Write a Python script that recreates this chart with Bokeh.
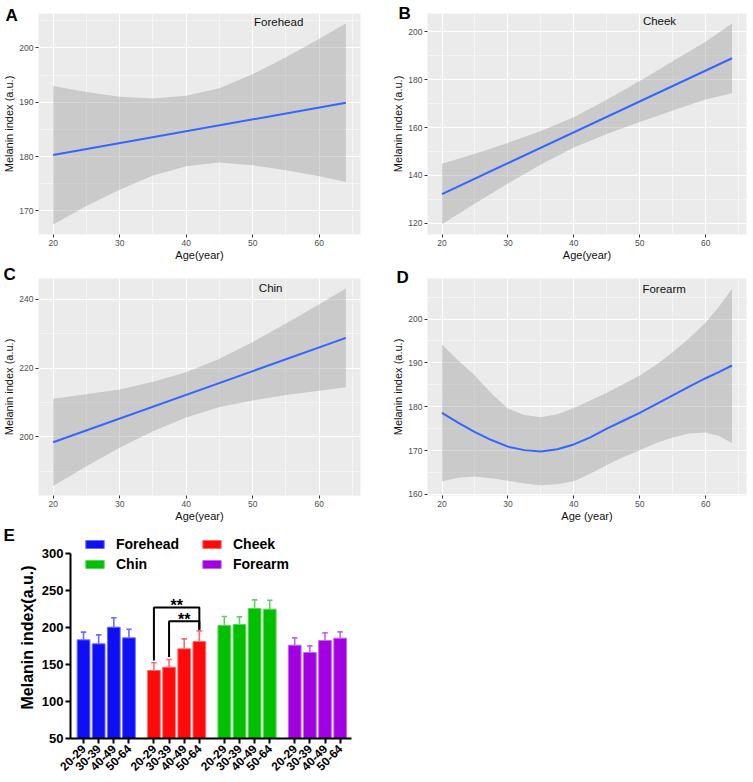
from math import pi
from bokeh.plotting import figure
from bokeh.layouts import column, row
from bokeh.models import Range1d, FixedTicker, Legend, LegendItem
from bokeh.core.properties import value
from bokeh.embed import file_html
from bokeh.resources import INLINE

FONT = "Liberation Sans"

# ---------------- Panels A-D data (age vs melanin index) ----------------
age_ticks = [20, 30, 40, 50, 60]
age_minor = [25, 35, 45, 55, 65]
band_age = [20, 25, 30, 35, 40, 45, 50, 55, 60, 64]
fit_age = [20, 64]

forehead_fit = [180.3, 189.9]
forehead_upper = [193.0, 191.9, 191.0, 190.7, 191.2, 192.6, 195.2, 198.3, 201.7, 204.5]
forehead_lower = [167.5, 170.9, 173.9, 176.5, 178.2, 178.9, 178.4, 177.5, 176.4, 175.3]

cheek_fit = [132.2, 189.0]
cheek_upper = [144.9, 149.1, 153.6, 158.6, 164.3, 171.6, 179.5, 187.7, 195.9, 203.5]
cheek_lower = [119.6, 128.3, 136.6, 144.6, 151.7, 157.3, 162.3, 167.1, 171.7, 174.4]

chin_fit = [198.4, 228.8]
chin_upper = [211.1, 212.4, 213.8, 216.0, 218.8, 222.7, 227.6, 233.0, 238.6, 243.2]
chin_lower = [185.7, 191.4, 196.8, 201.6, 205.6, 208.7, 210.6, 212.2, 213.4, 214.4]

forearm_age = [20, 22.5, 25, 27.5, 30, 32.5, 35, 37.5, 40, 42.5, 45, 47.5, 50, 52.5, 55, 57.5, 60, 62, 64]
forearm_fit = [178.6, 176.3, 174.2, 172.4, 170.9, 170.1, 169.8, 170.3, 171.4, 173.0, 175.0, 176.8,
               178.6, 180.6, 182.6, 184.6, 186.5, 187.9, 189.4]
forearm_upper = [194.2, 190.5, 187.1, 183.0, 179.6, 178.1, 177.6, 178.3, 179.7, 181.4, 183.2, 185.1,
                 187.1, 189.6, 192.4, 195.6, 199.2, 202.8, 206.9]
forearm_lower = [163.0, 163.8, 164.1, 163.7, 163.1, 162.5, 162.1, 162.3, 163.0, 164.7, 166.7, 168.5,
                 170.1, 171.7, 173.0, 173.9, 174.1, 173.3, 171.7]

# ---------------- Panel E data (bar chart) ----------------
sites = ["Forehead", "Cheek", "Chin", "Forearm"]
age_groups = ["20-29", "30-39", "40-49", "50-64"]
forehead_mean = [183.3, 177.9, 200.5, 186.0]
forehead_sd = [10.4, 12.2, 12.6, 11.7]
cheek_mean = [141.9, 146.4, 171.2, 181.1]
cheek_sd = [10.4, 10.4, 13.5, 14.4]
chin_mean = [202.7, 204.1, 225.7, 224.8]
chin_sd = [12.2, 10.3, 11.7, 12.1]
forearm_mean = [176.1, 166.2, 182.4, 185.6]
forearm_sd = [9.9, 9.0, 10.4, 8.5]
bar_ticks = [50, 100, 150, 200, 250, 300]

# significance brackets within Cheek: (from group index, to group index)
sig_pairs = [(0, 3), (1, 3)]
sig_heights = [227.0, 208.6]
sig_left_ends = [155.5, 160.0]
sig_right_ends = [197.0, 197.0]
sig_text = ["**", "**"]


def letter_title(p, letter, offset, standoff):
    p.title.text = letter
    p.title.align = "left"
    p.title.vertical_align = "bottom"
    p.title.offset = offset
    p.title.standoff = standoff
    p.title.text_font = FONT
    p.title.text_font_size = "17px"
    p.title.text_font_style = "bold"
    p.title.text_color = "black"


def smooth_panel(letter, name, name_xy, xs, fit, bx, lo, hi, yrange, yticks, yminor,
                 width, height, bl, br, bt, bb, letter_off, xlabel="Age(year)"):
    p = figure(width=width, height=height, output_backend="svg", toolbar_location=None,
               x_range=Range1d(17.8, 66.2), y_range=Range1d(*yrange),
               min_border_left=bl, min_border_right=br, min_border_top=bt, min_border_bottom=bb)
    p.background_fill_color = "#EBEBEB"
    p.border_fill_color = "white"
    p.outline_line_color = None
    p.xaxis.ticker = FixedTicker(ticks=age_ticks, minor_ticks=age_minor)
    p.yaxis.ticker = FixedTicker(ticks=yticks, minor_ticks=yminor)
    for g in (p.xgrid, p.ygrid):
        g.grid_line_color = "white"
        g.grid_line_width = 1.1
        g.minor_grid_line_color = "white"
        g.minor_grid_line_width = 0.5
    for ax in (p.xaxis, p.yaxis):
        ax.axis_line_color = None
        ax.minor_tick_line_color = None
        ax.major_tick_line_color = "#333333"
        ax.major_tick_in = 0
        ax.major_tick_out = 3
        ax.major_label_text_font = FONT
        ax.major_label_text_font_size = "8.5px"
        ax.major_label_text_color = "#4D4D4D"
        ax.axis_label_text_font = FONT
        ax.axis_label_text_font_size = "11px"
        ax.axis_label_text_font_style = "normal"
        ax.axis_label_text_color = "#111111"
    p.xaxis.major_label_standoff = 1
    p.xaxis.axis_label_standoff = 0
    p.yaxis.major_label_standoff = 1
    p.yaxis.axis_label_standoff = 1
    p.xaxis.axis_label = xlabel
    p.yaxis.axis_label = "Melanin index (a.u.)"
    p.varea(x=bx, y1=lo, y2=hi, fill_color="#999999", fill_alpha=0.4)
    p.line(x=xs, y=fit, line_color="#3366FF", line_width=2)
    p.text(x=[name_xy[0]], y=[name_xy[1]], text=[name], text_font=value(FONT),
           text_font_size="11.5px", text_align="center", text_baseline="middle",
           text_color="#111111")
    letter_title(p, letter, letter_off[0], letter_off[1])
    return p


pA = smooth_panel("A", "Forehead", (53.9, 204.8), fit_age, forehead_fit, band_age,
                  forehead_lower, forehead_upper, (165.65, 206.35), [170, 180, 190, 200],
                  [175, 185, 195, 205], 380, 265, 36, 20, 13, 31, (-33, -23))
pB = smooth_panel("B", "Cheek", (53.0, 204.6), fit_age, cheek_fit, band_age,
                  cheek_lower, cheek_upper, (115.3, 207.7), [120, 140, 160, 180, 200],
                  [130, 150, 170, 190], 373, 265, 47, 7, 13, 31, (-29, -19))
pC = smooth_panel("C", "Chin", (52.7, 243.2), fit_age, chin_fit, band_age,
                  chin_lower, chin_upper, (182.9, 246.1), [200, 220, 240],
                  [190, 210, 230], 380, 259, 36, 20, 13, 25, (-35, -11))
pD = smooth_panel("D", "Forearm", (53.7, 206.95), forearm_age, forearm_fit, forearm_age,
                  forearm_lower, forearm_upper, (159.75, 209.25), [160, 170, 180, 190, 200],
                  [165, 175, 185, 195, 205], 373, 259, 47, 7, 13, 25, (-31, -17),
                  xlabel="Age (year)")

# ---------------- Panel E ----------------
group_step = 4.65
fills = ["#0F0FF5", "#FF0A0A", "#00C000", "#A300E0"]
lights = ["#6B6BFF", "#FF6B6B", "#5FD35F", "#C266F0"]
means = [forehead_mean, cheek_mean, chin_mean, forearm_mean]
sds = [forehead_sd, cheek_sd, chin_sd, forearm_sd]

pE = figure(width=380, height=258, output_backend="svg", toolbar_location=None,
            x_range=Range1d(-0.86, 17.7), y_range=Range1d(50, 323),
            min_border_left=70, min_border_right=29, min_border_top=12, min_border_bottom=44)
pE.outline_line_color = None
pE.background_fill_color = "white"
pE.xgrid.grid_line_color = None
pE.ygrid.grid_line_color = None
letter_title(pE, "E", -67, -16)

positions = []
labels = {}
renderers = []
for g, site in enumerate(sites):
    xs = [round(g * group_step + i, 2) for i in range(len(age_groups))]
    positions += xs
    for x, lab in zip(xs, age_groups):
        labels[x] = lab
    tops = means[g]
    caps = [m + s for m, s in zip(tops, sds[g])]
    r = pE.vbar(x=xs, top=tops, bottom=50, width=0.84, fill_color=fills[g],
                line_color=lights[g], line_width=1)
    renderers.append(r)
    pE.segment(x0=xs, y0=tops, x1=xs, y1=caps, line_color=lights[g], line_width=1.6)
    pE.segment(x0=[x - 0.18 for x in xs], y0=caps, x1=[x + 0.18 for x in xs], y1=caps,
               line_color=lights[g], line_width=1.6)

cheek_x = [round(1 * group_step + i, 2) for i in range(len(age_groups))]
bx, by = [], []
for (a, b), h, le, re_ in zip(sig_pairs, sig_heights, sig_left_ends, sig_right_ends):
    bx.append([cheek_x[a], cheek_x[a], cheek_x[b], cheek_x[b]])
    by.append([le, h, h, re_])
pE.multi_line(xs=bx, ys=by, line_color="black", line_width=2)
pE.text(x=[(cheek_x[a] + cheek_x[b]) / 2 for a, b in sig_pairs], y=sig_heights, text=sig_text,
        text_font=value(FONT), text_font_size="16px", text_font_style="bold",
        text_align="center", text_baseline="alphabetic", y_offset=-2, text_color="black")

pE.xaxis.ticker = FixedTicker(ticks=positions)
pE.xaxis.major_label_overrides = labels
pE.xaxis.major_label_orientation = pi / 4
pE.yaxis.ticker = FixedTicker(ticks=bar_ticks)
pE.yaxis.bounds = (50, 300)
for ax in (pE.xaxis, pE.yaxis):
    ax.axis_line_width = 2
    ax.axis_line_color = "black"
    ax.major_tick_line_width = 2
    ax.major_tick_line_color = "black"
    ax.major_tick_in = 0
    ax.major_tick_out = 5
    ax.minor_tick_line_color = None
    ax.major_label_text_font = FONT
    ax.major_label_text_font_style = "bold"
    ax.major_label_text_color = "black"
pE.xaxis.major_label_text_font_size = "12px"
pE.xaxis.major_label_standoff = 3
pE.yaxis.major_label_text_font_size = "13px"
pE.yaxis.major_label_standoff = 2
pE.yaxis.axis_label = "Melanin index(a.u.)"
pE.yaxis.axis_label_text_font = FONT
pE.yaxis.axis_label_text_font_size = "16px"
pE.yaxis.axis_label_text_font_style = "bold"
pE.yaxis.axis_label_text_color = "black"
pE.yaxis.axis_label_standoff = 3

order = [0, 2, 1, 3]
legend = Legend(items=[LegendItem(label=sites[k], renderers=[renderers[k]]) for k in order],
                nrows=2, location=(13, 166), glyph_width=23, glyph_height=10,
                label_standoff=10, label_width=80, label_height=14, spacing=4,
                padding=0, margin=0, background_fill_alpha=0, border_line_color=None,
                label_text_font=FONT, label_text_font_style="bold",
                label_text_font_size="14px", label_text_color="black")
pE.add_layout(legend)

layout = column(row(pA, pB), row(pC, pD), pE)
open("out.html", "w").write(file_html(layout, INLINE))
